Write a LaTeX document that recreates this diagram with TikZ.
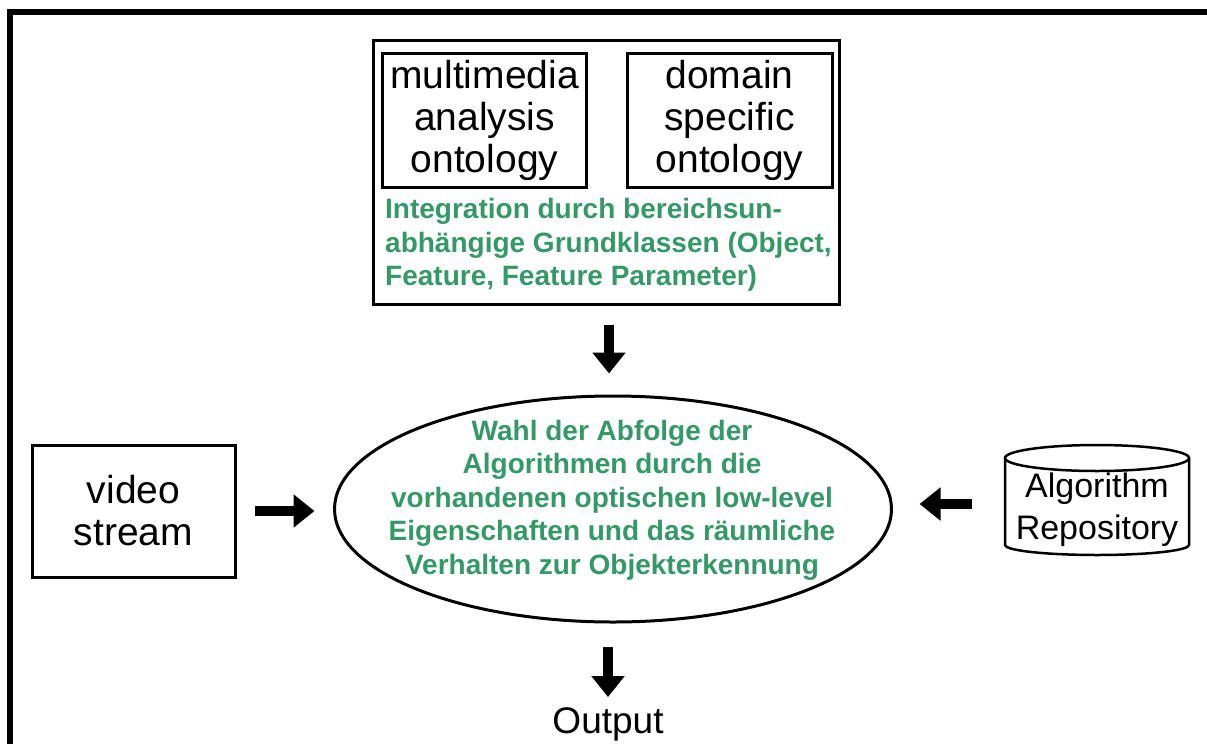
\documentclass[tikz,border=0pt]{standalone}
\usepackage{fontspec}
\setmainfont{Liberation Sans}
\usetikzlibrary{arrows.meta,shapes.geometric,positioning}
\definecolor{integgreen}{RGB}{51,153,102}
\tikzset{
  ontbox/.style={draw, line width=3pt, inner sep=0pt, align=center, font=\fontsize{39}{42}\selectfont},
  greentext/.style={text=integgreen, inner sep=0pt, font=\fontsize{28}{33.5}\selectfont\bfseries},
  fatarrow/.style={line width=10pt, -{Triangle[width=32pt,length=21pt]}},
}
\begin{document}
\begin{tikzpicture}[x=1pt, y=-1pt]
    \useasboundingbox (0, 0) rectangle (1207, 744);
    \clip (0, 0) rectangle (1207, 744);
    \draw [line width=6pt] (10, 760) -- (10, 12) -- (1220, 12);
    % ontologies
    \node [ontbox, minimum width=466pt, minimum height=264pt] (ont) at (606, 172) {};
    \node [ontbox, minimum width=204pt, minimum height=134pt] (mma) at (484.5, 120) {multimedia\\analysis\\ontology};
    \node [ontbox, minimum width=205pt, minimum height=134pt] (dso) at (729.5, 120) {domain\\specific\\ontology};
    \node [greentext, anchor=west, align=left] (integ) at (385, 245) {Integration durch bereichsun-\\abhängige Grundklassen (Object,\\Feature, Feature Parameter)};
    % selection of algorithms
    \node [draw, ellipse, line width=3pt, minimum width=557pt, minimum height=226pt] (ell) at (613, 509) {};
    \node [greentext, align=center] (wahl) at (612, 500) {Wahl der Abfolge der\\Algorithmen durch die\\vorhandenen optischen low-level\\Eigenschaften und das räumliche\\Verhalten zur Objekterkennung};
    \node [ontbox, minimum width=203pt, minimum height=132pt] (vid) at (133.5, 511) {video\\stream};
    \node [align=center, inner sep=0pt, minimum width=184pt, font=\fontsize{34}{42}\selectfont] (repo) at (1097, 510) {Algorithm\\Repository};
    \draw [line width=2.5pt] (1097, 458) ellipse [x radius=92, y radius=13];
    \draw [line width=2.5pt] (1005, 458) -- (1005, 545) arc [start angle=180, end angle=0, x radius=92, y radius=10] -- (1189, 458);
    \node [inner sep=0pt, font=\fontsize{37}{42}\selectfont] (out) at (608, 724) {Output};
    % arrows
    \draw [fatarrow, shorten <=19pt, shorten >=21pt] ([xshift=3pt]ont.south) -- ([xshift=3pt]ont.south |- ell.north);
    \draw [fatarrow, shorten <=18.5pt, shorten >=18.5pt] (vid.east) -- (vid.east -| ell.west);
    \draw [fatarrow, shorten <=33pt, shorten >=26.5pt] ([yshift=6pt]repo.west) -- ([yshift=6pt]repo.west -| ell.east);
    \draw [fatarrow, shorten <=23.5pt, shorten >=10pt] ([xshift=-5pt]ell.south) -- (out.north);
\end{tikzpicture}
\end{document}
